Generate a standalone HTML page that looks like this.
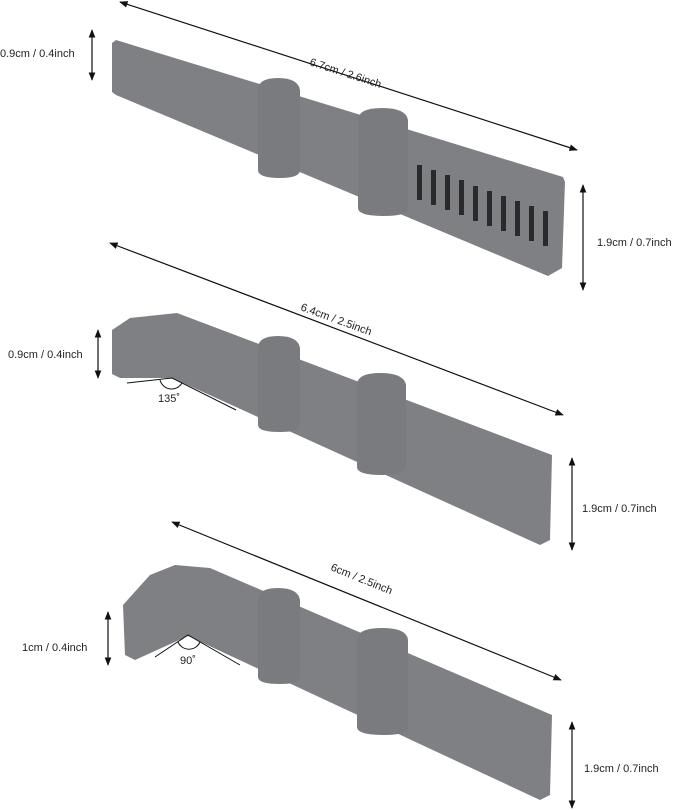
<!DOCTYPE html>
<html><head><meta charset="utf-8"><style>
html,body{margin:0;padding:0;background:#fff}
svg{display:block}
text{font-family:"Liberation Sans",sans-serif;font-size:11px;fill:#222}
</style></head><body>
<svg width="679" height="810" viewBox="0 0 679 810">
<defs>
<marker id="a" viewBox="0 0 10 10" refX="9" refY="5" markerWidth="7" markerHeight="7" orient="auto-start-reverse"><path d="M0,1 L10,5 L0,9 z" fill="#111"/></marker>
</defs>
<g fill="#7f8084">
<!-- tool 1 -->
<polygon points="116,40 563,177 565,182 562,268 548,276 116,95 112,92 112,43"/>
<path d="M258,90 Q258,78 278,78 Q298,78 300,90 L300,170 Q300,178 280,178 Q258,178 258,170 Z" fill="#7a7b7f"/>
<path d="M358,120 Q358,108 382,108 Q406,108 408,120 L408,208 Q408,216 384,216 Q358,216 358,208 Z" fill="#7a7b7f"/>
<!-- tool 2 -->
<polygon points="112,330 130,318 177,313 552,455 550,540 540,545 172,378 120,378 112,374"/>
<path d="M258,348 Q258,336 278,336 Q298,336 300,348 L300,425 Q300,432 280,432 Q258,432 258,425 Z" fill="#7a7b7f"/>
<path d="M357,385 Q357,373 380,373 Q404,373 406,385 L406,467 Q406,475 382,475 Q357,475 357,467 Z" fill="#7a7b7f"/>
<!-- tool 3 -->
<polygon points="123,605 150,575 175,565 210,568 552,715 550,795 540,800 188,636 135,660 125,655"/>
<path d="M258,600 Q258,588 278,588 Q298,588 300,600 L300,677 Q300,684 280,684 Q258,684 258,677 Z" fill="#7a7b7f"/>
<path d="M357,640 Q357,628 382,628 Q407,628 408,640 L408,727 Q408,735 384,735 Q357,735 357,727 Z" fill="#7a7b7f"/>
</g>
<!-- slots -->
<g fill="#2a2a2c">
<rect x="417" y="165" width="5" height="35"/><rect x="431" y="170" width="5" height="35"/>
<rect x="445" y="175" width="5" height="35"/><rect x="459" y="180" width="5" height="35"/>
<rect x="473" y="186" width="5" height="35"/><rect x="487" y="191" width="5" height="35"/>
<rect x="501" y="196" width="5" height="35"/><rect x="515" y="201" width="5" height="35"/>
<rect x="529" y="206" width="5" height="35"/><rect x="543" y="211" width="5" height="35"/>
</g>
<g stroke="#111" stroke-width="1.2" fill="none">
<line x1="120" y1="2" x2="577" y2="150" marker-start="url(#a)" marker-end="url(#a)"/>
<line x1="92" y1="30" x2="92" y2="80" marker-start="url(#a)" marker-end="url(#a)"/>
<line x1="583" y1="185" x2="583" y2="290" marker-start="url(#a)" marker-end="url(#a)"/>
<line x1="110" y1="243" x2="563" y2="415" marker-start="url(#a)" marker-end="url(#a)"/>
<line x1="98" y1="330" x2="98" y2="378" marker-start="url(#a)" marker-end="url(#a)"/>
<line x1="572" y1="458" x2="572" y2="550" marker-start="url(#a)" marker-end="url(#a)"/>
<line x1="172" y1="522" x2="561" y2="680" marker-start="url(#a)" marker-end="url(#a)"/>
<line x1="108" y1="612" x2="108" y2="665" marker-start="url(#a)" marker-end="url(#a)"/>
<line x1="572" y1="722" x2="572" y2="808" marker-start="url(#a)" marker-end="url(#a)"/>
<polyline points="127,383 172,378 236,410" stroke-width="1"/>
<path d="M160,380 A12,12 0 0 0 182,383" stroke-width="1"/>
<polyline points="155,657 188,635 240,665" stroke-width="1"/>
<path d="M178,642 A12,12 0 0 0 200,642" stroke-width="1"/>
</g>
<text x="309" y="65" transform="rotate(18 309 65)">6.7cm / 2.6inch</text>
<text x="0" y="57">0.9cm / 0.4inch</text>
<text x="597" y="246">1.9cm / 0.7inch</text>
<text x="300" y="310" transform="rotate(20 300 310)">6.4cm / 2.5inch</text>
<text x="8" y="358">0.9cm / 0.4inch</text>
<text x="158" y="402">135˚</text>
<text x="582" y="512">1.9cm / 0.7inch</text>
<text x="330" y="570" transform="rotate(22 330 570)">6cm / 2.5inch</text>
<text x="22" y="651">1cm / 0.4inch</text>
<text x="180" y="664">90˚</text>
<text x="584" y="772">1.9cm / 0.7inch</text>
</svg>
</body></html>
